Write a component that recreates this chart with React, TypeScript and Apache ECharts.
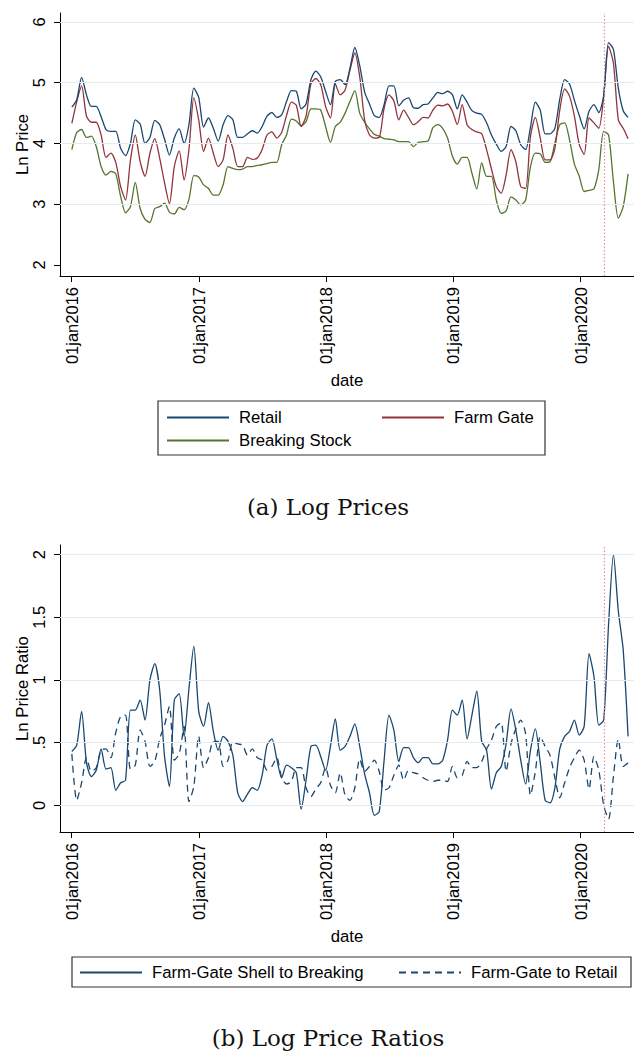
import React, { useEffect, useRef } from 'react';
import * as echarts from 'echarts';

// Bi-weekly observations starting 2016-01-02
const START_DATE = Date.UTC(2016, 0, 2);
const STEP_DAYS = 14;

const RETAIL = [
  4.60, 4.72, 5.09, 4.80, 4.61, 4.61, 4.44, 4.23, 4.20, 4.20,
  3.92, 3.80, 4.00, 4.39, 4.32, 4.00, 4.10, 4.38, 4.31, 4.07,
  3.81, 4.09, 4.24, 4.00, 4.31, 4.91, 4.76, 4.27, 4.42, 4.25,
  4.04, 4.31, 4.46, 4.39, 4.10, 4.10, 4.16, 4.21, 4.17, 4.28,
  4.45, 4.51, 4.43, 4.47, 4.69, 4.87, 4.86, 4.57, 4.65, 5.05,
  5.19, 5.10, 4.86, 4.64, 5.02, 5.05, 4.97, 5.24, 5.58, 5.28,
  4.85, 4.65, 4.46, 4.43, 4.64, 4.95, 4.95, 4.62, 4.71, 4.75,
  4.59, 4.58, 4.64, 4.65, 4.75, 4.84, 4.82, 4.86, 4.80, 4.57,
  4.80, 4.68, 4.54, 4.50, 4.48, 4.34, 4.14, 3.99, 3.87, 3.95,
  4.28, 4.21, 3.98, 3.90, 4.27, 4.68, 4.55, 4.16, 4.16, 4.25,
  4.73, 5.05, 4.98, 4.71, 4.46, 4.24, 4.53, 4.64, 4.51, 4.79,
  5.66, 5.55, 4.91, 4.54, 4.43,
];

const FARM_GATE = [
  4.33, 4.69, 4.95, 4.45, 4.35, 4.35, 4.14, 3.77, 3.84, 3.69,
  3.29, 3.07, 3.72, 4.14, 3.70, 3.46, 3.84, 4.08, 3.76, 3.35,
  3.01, 3.62, 3.88, 3.40, 3.90, 4.75, 4.39, 3.87, 4.09, 3.84,
  3.62, 3.73, 4.14, 3.92, 3.62, 3.62, 3.77, 3.74, 3.76, 3.90,
  4.14, 4.19, 4.09, 4.18, 4.46, 4.68, 4.63, 4.28, 4.45, 4.98,
  5.07, 4.97, 4.61, 4.42, 4.98, 4.80, 4.88, 5.21, 5.49, 5.10,
  4.39, 4.14, 4.09, 4.10, 4.58, 4.80, 4.70, 4.39, 4.55, 4.43,
  4.31, 4.36, 4.43, 4.42, 4.55, 4.63, 4.62, 4.65, 4.53, 4.31,
  4.64, 4.31, 4.23, 4.19, 4.16, 3.90, 3.58, 3.29, 3.18, 3.48,
  3.90, 3.70, 3.29, 3.26, 4.12, 4.43, 4.09, 3.73, 3.73, 3.92,
  4.55, 4.90, 4.78, 4.45, 3.98, 3.82, 4.42, 4.34, 4.25, 4.77,
  5.60, 5.32, 4.39, 4.25, 4.08,
];

const BREAKING_STOCK = [
  3.90, 4.18, 4.23, 4.10, 4.12, 3.95, 3.62, 3.48, 3.54, 3.50,
  3.13, 2.86, 2.96, 3.36, 2.93, 2.75, 2.70, 2.93, 2.96, 3.02,
  2.87, 2.84, 2.95, 2.91, 3.08, 3.47, 3.45, 3.32, 3.26, 3.15,
  3.15, 3.32, 3.62, 3.59, 3.57, 3.58, 3.62, 3.62, 3.64, 3.65,
  3.67, 3.69, 3.69, 3.98, 4.14, 4.40, 4.37, 4.29, 4.36, 4.57,
  4.57, 4.55, 4.28, 4.02, 4.28, 4.35, 4.50, 4.69, 4.87, 4.50,
  4.35, 4.24, 4.15, 4.12, 4.08, 4.07, 4.06, 4.03, 4.03, 4.03,
  3.95, 4.02, 4.03, 4.04, 4.26, 4.31, 4.25, 4.09, 3.79, 3.66,
  3.77, 3.77, 3.51, 3.25, 3.68, 3.46, 3.46, 3.07, 2.85, 2.89,
  3.12, 3.07, 2.99, 3.07, 3.62, 3.84, 3.83, 3.69, 3.70, 4.01,
  4.31, 4.34, 4.06, 3.66, 3.46, 3.21, 3.23, 3.25, 3.57, 4.20,
  4.14, 3.37, 2.77, 2.96, 3.50,
];

const SHELL_TO_BREAKING = [
  0.43, 0.48, 0.75, 0.34, 0.23, 0.28, 0.45, 0.29, 0.30, 0.12,
  0.18, 0.20, 0.76, 0.76, 0.84, 0.68, 1.00, 1.13, 0.92, 0.39,
  0.15, 0.84, 0.89, 0.55, 0.93, 1.27, 0.75, 0.63, 0.82, 0.59,
  0.44, 0.55, 0.51, 0.40, 0.10, 0.03, 0.09, 0.14, 0.12, 0.24,
  0.48, 0.53, 0.37, 0.22, 0.32, 0.30, 0.26, -0.03, 0.20, 0.47,
  0.48, 0.39, 0.28, 0.47, 0.69, 0.44, 0.47, 0.55, 0.65, 0.47,
  0.25, 0.10, -0.08, -0.05, 0.36, 0.72, 0.60, 0.35, 0.46, 0.46,
  0.38, 0.34, 0.38, 0.38, 0.33, 0.33, 0.36, 0.52, 0.76, 0.72,
  0.84, 0.53, 0.72, 0.91, 0.51, 0.44, 0.13, 0.26, 0.31, 0.49,
  0.77, 0.60, 0.36, 0.17, 0.44, 0.61, 0.34, 0.04, 0.02, 0.14,
  0.45, 0.55, 0.59, 0.68, 0.56, 0.63, 1.21, 1.03, 0.64, 0.68,
  1.44, 2.00, 1.55, 1.24, 0.55,
];

const FARM_TO_RETAIL = [
  0.41, 0.04, 0.18, 0.38, 0.27, 0.30, 0.44, 0.45, 0.38, 0.58,
  0.71, 0.72, 0.29, 0.32, 0.60, 0.51, 0.31, 0.35, 0.53, 0.64,
  0.79, 0.36, 0.41, 0.63, 0.03, 0.15, 0.55, 0.30, 0.38, 0.51,
  0.51, 0.31, 0.36, 0.51, 0.49, 0.48, 0.40, 0.45, 0.38, 0.36,
  0.28, 0.31, 0.38, 0.22, 0.17, 0.19, 0.30, 0.30, 0.14, 0.07,
  0.13, 0.18, 0.30, 0.16, 0.10, 0.26, 0.08, 0.04, 0.14, 0.37,
  0.27, 0.31, 0.36, 0.27, 0.12, 0.14, 0.24, 0.32, 0.20, 0.28,
  0.26, 0.25, 0.22, 0.20, 0.19, 0.20, 0.20, 0.19, 0.31, 0.22,
  0.24, 0.35, 0.30, 0.30, 0.35, 0.45, 0.52, 0.63, 0.66, 0.27,
  0.49, 0.61, 0.68, 0.57, 0.08, 0.27, 0.55, 0.47, 0.40, 0.22,
  0.06, 0.18, 0.30, 0.38, 0.44, 0.36, 0.13, 0.39, 0.28, 0.00,
  -0.11, 0.23, 0.53, 0.31, 0.34,
];

const YEAR_TICKS = [2016, 2017, 2018, 2019, 2020];
const PRICE_TICKS = [2, 3, 4, 5, 6];
const PRICE_GRID = [3, 4, 5, 6];
const RATIO_TICKS = [0, 0.5, 1, 1.5, 2];
const EVENT_DATE = Date.UTC(2020, 2, 9);

const DAY = 86400000;
const DATES = RETAIL.map((_, i) => START_DATE + i * STEP_DAYS * DAY);
const toPairs = (vals: number[]) => vals.map((v, i) => [DATES[i], v]);
const yearMs = YEAR_TICKS.map((y) => Date.UTC(y, 0, 1));

const FONT = 'Liberation Sans, Arial, sans-serif';
const NAVY = '#1a476f';
const MAROON = '#90353b';
const GREEN = '#55752f';
const GRIDC = '#e4ecef';
const TICK_FS = 16.5;
const TITLE_FS = 16.7;

function xAxis(gridIndex: number) {
  return {
    type: 'value',
    gridIndex,
    min: Date.UTC(2015, 10, 29),
    max: Date.UTC(2020, 5, 2),
    axisLine: { show: true, onZero: false, lineStyle: { color: '#000', width: 1 } },
    axisTick: { show: true, customValues: yearMs, length: 6, lineStyle: { color: '#000', width: 1 } },
    axisLabel: {
      customValues: yearMs,
      rotate: 90,
      margin: 11,
      fontSize: TICK_FS,
      fontFamily: FONT,
      color: '#000',
      formatter: (v: number) => '01jan' + new Date(v).getUTCFullYear(),
    },
    splitLine: { show: false },
    name: 'date',
    nameLocation: 'middle',
    nameGap: 96,
    nameMoveOverlap: false,
    nameTextStyle: { fontSize: TITLE_FS, fontFamily: FONT, color: '#000' },
  };
}

function yAxis(gridIndex: number, min: number, max: number, ticks: number[], name: string) {
  return {
    type: 'value',
    gridIndex,
    min,
    max,
    axisLine: { show: true, onZero: false, lineStyle: { color: '#000', width: 1 } },
    axisTick: { show: true, customValues: ticks, length: 6, lineStyle: { color: '#000', width: 1 } },
    axisLabel: {
      customValues: ticks,
      rotate: 90,
      margin: 13,
      fontSize: TICK_FS,
      fontFamily: FONT,
      color: '#000',
      formatter: (v: number) => (v === 0 ? '0' : String(v).replace(/^0\./, '.')),
    },
    splitLine: { show: false },
    name,
    nameLocation: 'middle',
    nameGap: 29,
    nameMoveOverlap: false,
    nameRotate: 90,
    nameTextStyle: { fontSize: TITLE_FS, fontFamily: FONT, color: '#000' },
  };
}

function dataSeries(name: string, vals: number[], color: string, gi: number, extra: any = {}) {
  return {
    name,
    type: 'line',
    xAxisIndex: gi,
    yAxisIndex: gi,
    data: toPairs(vals),
    symbol: 'none',
    smooth: 0.25,
    z: 3,
    lineStyle: { color, width: 1.3, ...(extra.lineStyle || {}) },
    itemStyle: { color },
    emphasis: { disabled: true },
    silent: true,
    ...(extra.rest || {}),
  };
}

function gridSeries(gi: number, levels: number[], vals: number[]) {
  return {
    type: 'line',
    xAxisIndex: gi,
    yAxisIndex: gi,
    data: toPairs(vals),
    symbol: 'none',
    lineStyle: { opacity: 0 },
    silent: true,
    z: 1,
    markLine: {
      silent: true,
      symbol: 'none',
      label: { show: false },
      lineStyle: { color: GRIDC, width: 1, type: 'solid' },
      data: levels.map((v) => ({ yAxis: v })),
    },
  };
}

function eventLine() {
  return {
    silent: true,
    symbol: 'none',
    label: { show: false },
    lineStyle: { color: '#e98aa3', width: 1.2, type: [1.5, 2] },
    data: [{ xAxis: EVENT_DATE }],
  };
}

function legendItem(name: string, left: number, centerY: number) {
  return {
    data: [name],
    left,
    top: centerY - 8,
    orient: 'horizontal',
    padding: 0,
    itemWidth: 62,
    itemHeight: 16,
    selectedMode: false,
    itemStyle: { opacity: 0, borderWidth: 0 },
    textStyle: { fontSize: TITLE_FS, fontFamily: FONT, color: '#000', padding: [0, 0, 0, 5], lineHeight: 16 },
  };
}

export default function App() {
  const ref = useRef<HTMLDivElement>(null);
  useEffect(() => {
    if (!ref.current) return;
    const chart = echarts.init(ref.current, undefined, { renderer: 'svg' });
    chart.setOption({
      animation: false,
      backgroundColor: '#fff',
      grid: [
        { left: 60, right: 0, top: 13, height: 263, containLabel: false },
        { left: 60, right: 0, top: 545, height: 287, containLabel: false },
      ],
      xAxis: [xAxis(0), xAxis(1)],
      yAxis: [
        yAxis(0, 1.819, 6.148, PRICE_TICKS, 'Ln Price'),
        yAxis(1, -0.213, 2.077, RATIO_TICKS, 'Ln Price Ratio'),
      ],
      legend: [
        legendItem('Retail', 166, 417),
        legendItem('Farm Gate', 381, 417),
        legendItem('Breaking Stock', 166, 440),
        legendItem('Farm-Gate Shell to Breaking', 79, 972),
        legendItem('Farm-Gate to Retail', 398, 972),
      ],
      series: [
        gridSeries(0, PRICE_GRID, RETAIL),
        gridSeries(1, RATIO_TICKS, SHELL_TO_BREAKING),
        dataSeries('Breaking Stock', BREAKING_STOCK, GREEN, 0),
        dataSeries('Farm Gate', FARM_GATE, MAROON, 0),
        dataSeries('Retail', RETAIL, NAVY, 0, { rest: { markLine: eventLine() } }),
        dataSeries('Farm-Gate to Retail', FARM_TO_RETAIL, NAVY, 1, { lineStyle: { type: [7, 5] } }),
        dataSeries('Farm-Gate Shell to Breaking', SHELL_TO_BREAKING, NAVY, 1, { rest: { markLine: eventLine() } }),
      ],
      graphic: [
        { type: 'rect', shape: { x: 158, y: 401, width: 387, height: 54 }, style: { fill: 'none', stroke: '#333', lineWidth: 1.2 } },
        { type: 'rect', shape: { x: 72, y: 957, width: 559, height: 30 }, style: { fill: 'none', stroke: '#333', lineWidth: 1.2 } },
        { type: 'text', x: 328, y: 507, style: { text: '(a) Log Prices', fontSize: 23, fontFamily: 'DejaVu Serif, serif', fill: '#111', align: 'center', verticalAlign: 'middle' } },
        { type: 'text', x: 328, y: 1038, style: { text: '(b) Log Price Ratios', fontSize: 23, fontFamily: 'DejaVu Serif, serif', fill: '#111', align: 'center', verticalAlign: 'middle' } },
      ],
    });
    return () => chart.dispose();
  }, []);
  return (
    <div
      ref={ref}
      style={{ position: 'absolute', left: 0, top: 0, width: 634, height: 1052, background: '#fff' }}
    />
  );
}
